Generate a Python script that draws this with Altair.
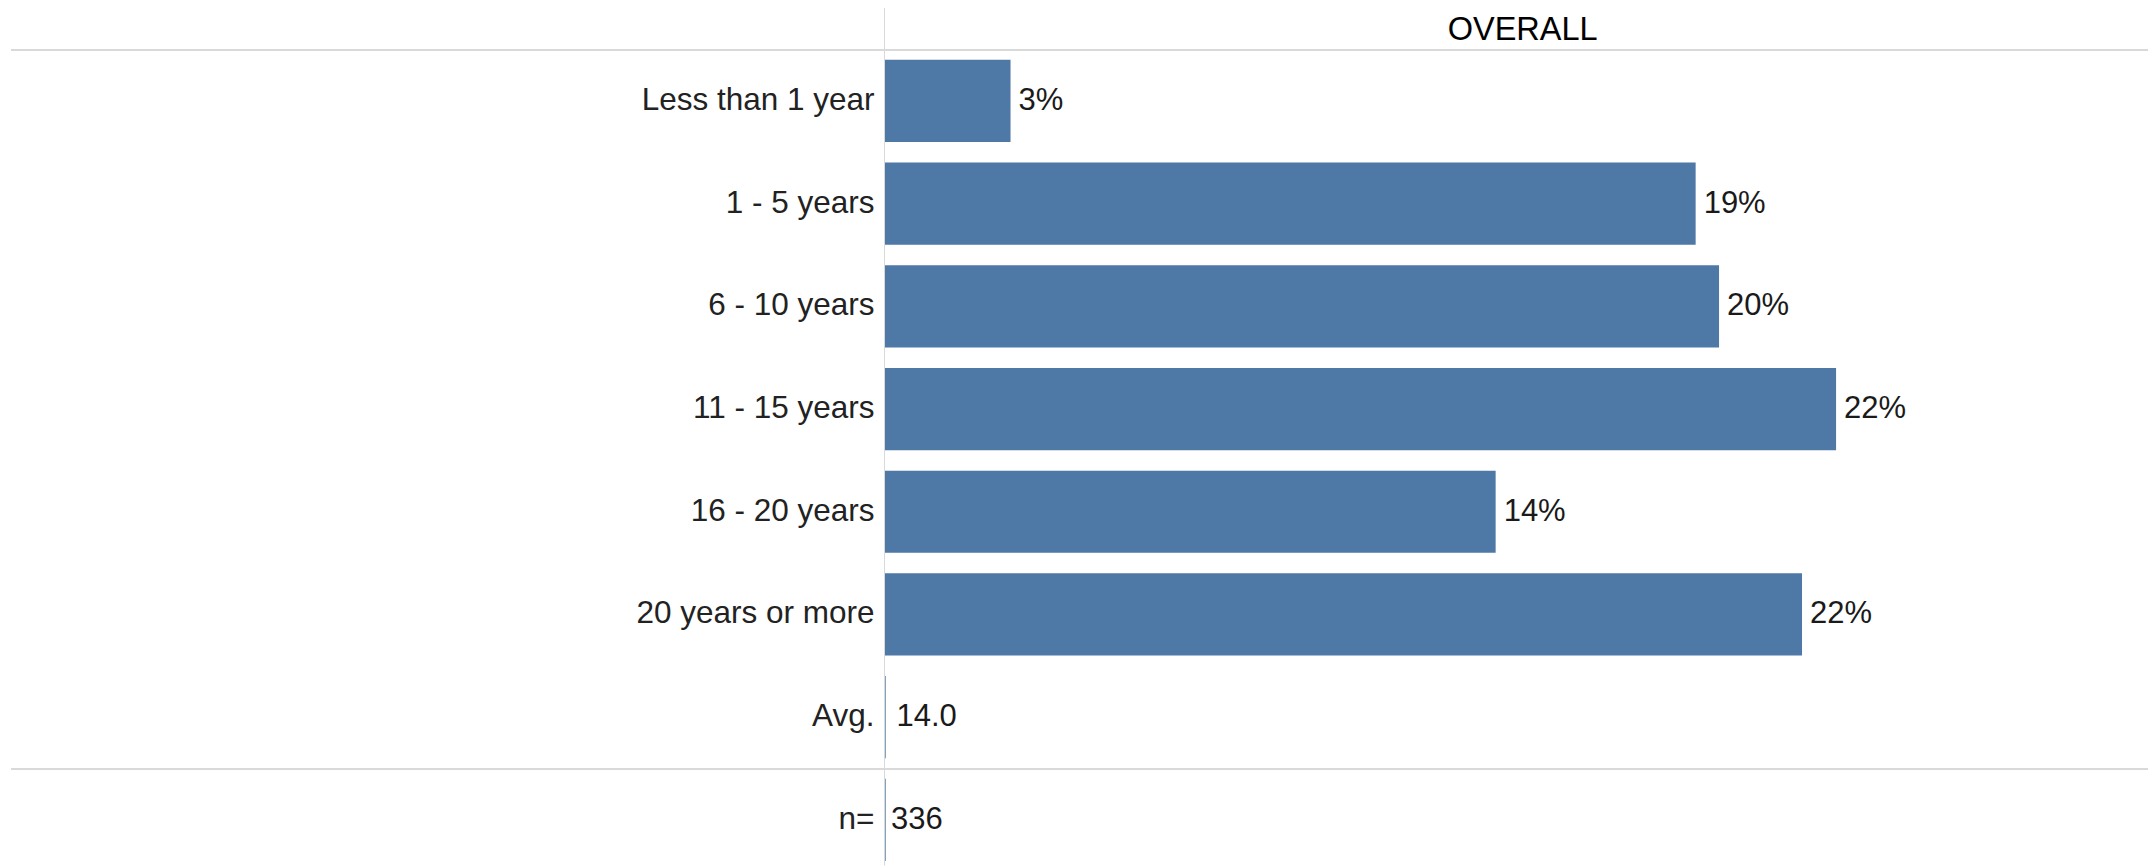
import altair as alt
import pandas as pd

# ---- data ----
categories = ["Less than 1 year", "1 - 5 years", "6 - 10 years", "11 - 15 years",
              "16 - 20 years", "20 years or more"]
values = [2.95, 19.05, 19.6, 22.35, 14.35, 21.55]          # percent
summary_labels = ["Avg.", "n="]
summary_values = ["14.0", "336"]
row_order = categories + summary_labels
column_title = ["OVERALL"]

# ---- styling / layout ----
BLUE = "#4e79a7"
FONT = "Liberation Sans"
FS = 31
LEFT = 877
TOP = 41.6
W = 1263
H = 816
STEP = 102.7
XMAX = 29.68
LINE = "#d9d9d9"

bars_df = pd.DataFrame({"cat": categories, "value": values})
avg_df = pd.DataFrame({"cat": summary_labels[:1], "text": summary_values[:1]})
n_df = pd.DataFrame({"cat": summary_labels[1:], "text": summary_values[1:]})
sum_df = pd.DataFrame({"cat": summary_labels, "text": summary_values})
title_df = pd.DataFrame({"t": column_title})
one = pd.DataFrame({"a": [0]})

y_enc = alt.Y(
    "cat:N",
    sort=row_order,
    scale=alt.Scale(domain=row_order, range=[0, 8 * STEP], paddingInner=0.2, paddingOuter=0.1),
    axis=alt.Axis(title=None, domain=False, ticks=False, tickSize=0, labelPadding=11,
                  labelFontSize=31.5, labelFont=FONT, labelColor="#222222", labelLimit=0,
                  grid=False),
)
x_scale = alt.Scale(domain=[0, XMAX], nice=False, zero=True)

bars = alt.Chart(bars_df).mark_bar(color=BLUE).encode(
    x=alt.X("value:Q", scale=x_scale, axis=None),
    y=y_enc,
)

bar_text = alt.Chart(bars_df).transform_calculate(
    label="format(datum.value, '.0f') + '%'"
).mark_text(align="left", baseline="middle", dx=8, fontSize=FS, font=FONT,
            color="#1a1a1a").encode(
    x=alt.X("value:Q", scale=x_scale, axis=None),
    y=y_enc,
    text="label:N",
)

sum_tick = alt.Chart(sum_df).mark_tick(color=BLUE, thickness=1, size=0.8 * STEP,
                                       xOffset=0.5).encode(
    x=alt.datum(0),
    y=y_enc,
)

avg_text = alt.Chart(avg_df).mark_text(align="left", baseline="middle", dx=11.5, fontSize=FS,
                                       font=FONT, color="#1a1a1a").encode(
    x=alt.datum(0), y=y_enc, text="text:N")
n_text = alt.Chart(n_df).mark_text(align="left", baseline="middle", dx=6, fontSize=FS,
                                   font=FONT, color="#1a1a1a").encode(
    x=alt.datum(0), y=y_enc, text="text:N")

divider = alt.Chart(one).mark_rule(color=LINE, strokeWidth=1).encode(
    x=alt.value(-0.5), y=alt.value(-TOP), y2=alt.value(H))

top_line = alt.Chart(one).mark_rule(color=LINE, strokeWidth=2).encode(
    x=alt.value(-874), x2=alt.value(W), y=alt.value(0.5))

mid_line = alt.Chart(one).mark_rule(color=LINE, strokeWidth=2).encode(
    x=alt.value(-874), x2=alt.value(W), y=alt.value(7 * STEP + 0.5))

title = alt.Chart(title_df).mark_text(align="center", baseline="middle", fontSize=32.5,
                                      font=FONT, color="#000000").encode(
    x=alt.value(637.7), y=alt.value(-19.5), text="t:N")

chart = alt.layer(
    divider, top_line, mid_line, bars, bar_text, sum_tick, avg_text, n_text, title
).properties(
    width=W,
    height=H,
    autosize=alt.AutoSizeParams(type="none"),
    padding={"left": LEFT, "top": TOP, "right": 0, "bottom": 0},
).configure_view(stroke=None)

chart.save("out.html", embed_options={"renderer": "svg", "actions": False})
